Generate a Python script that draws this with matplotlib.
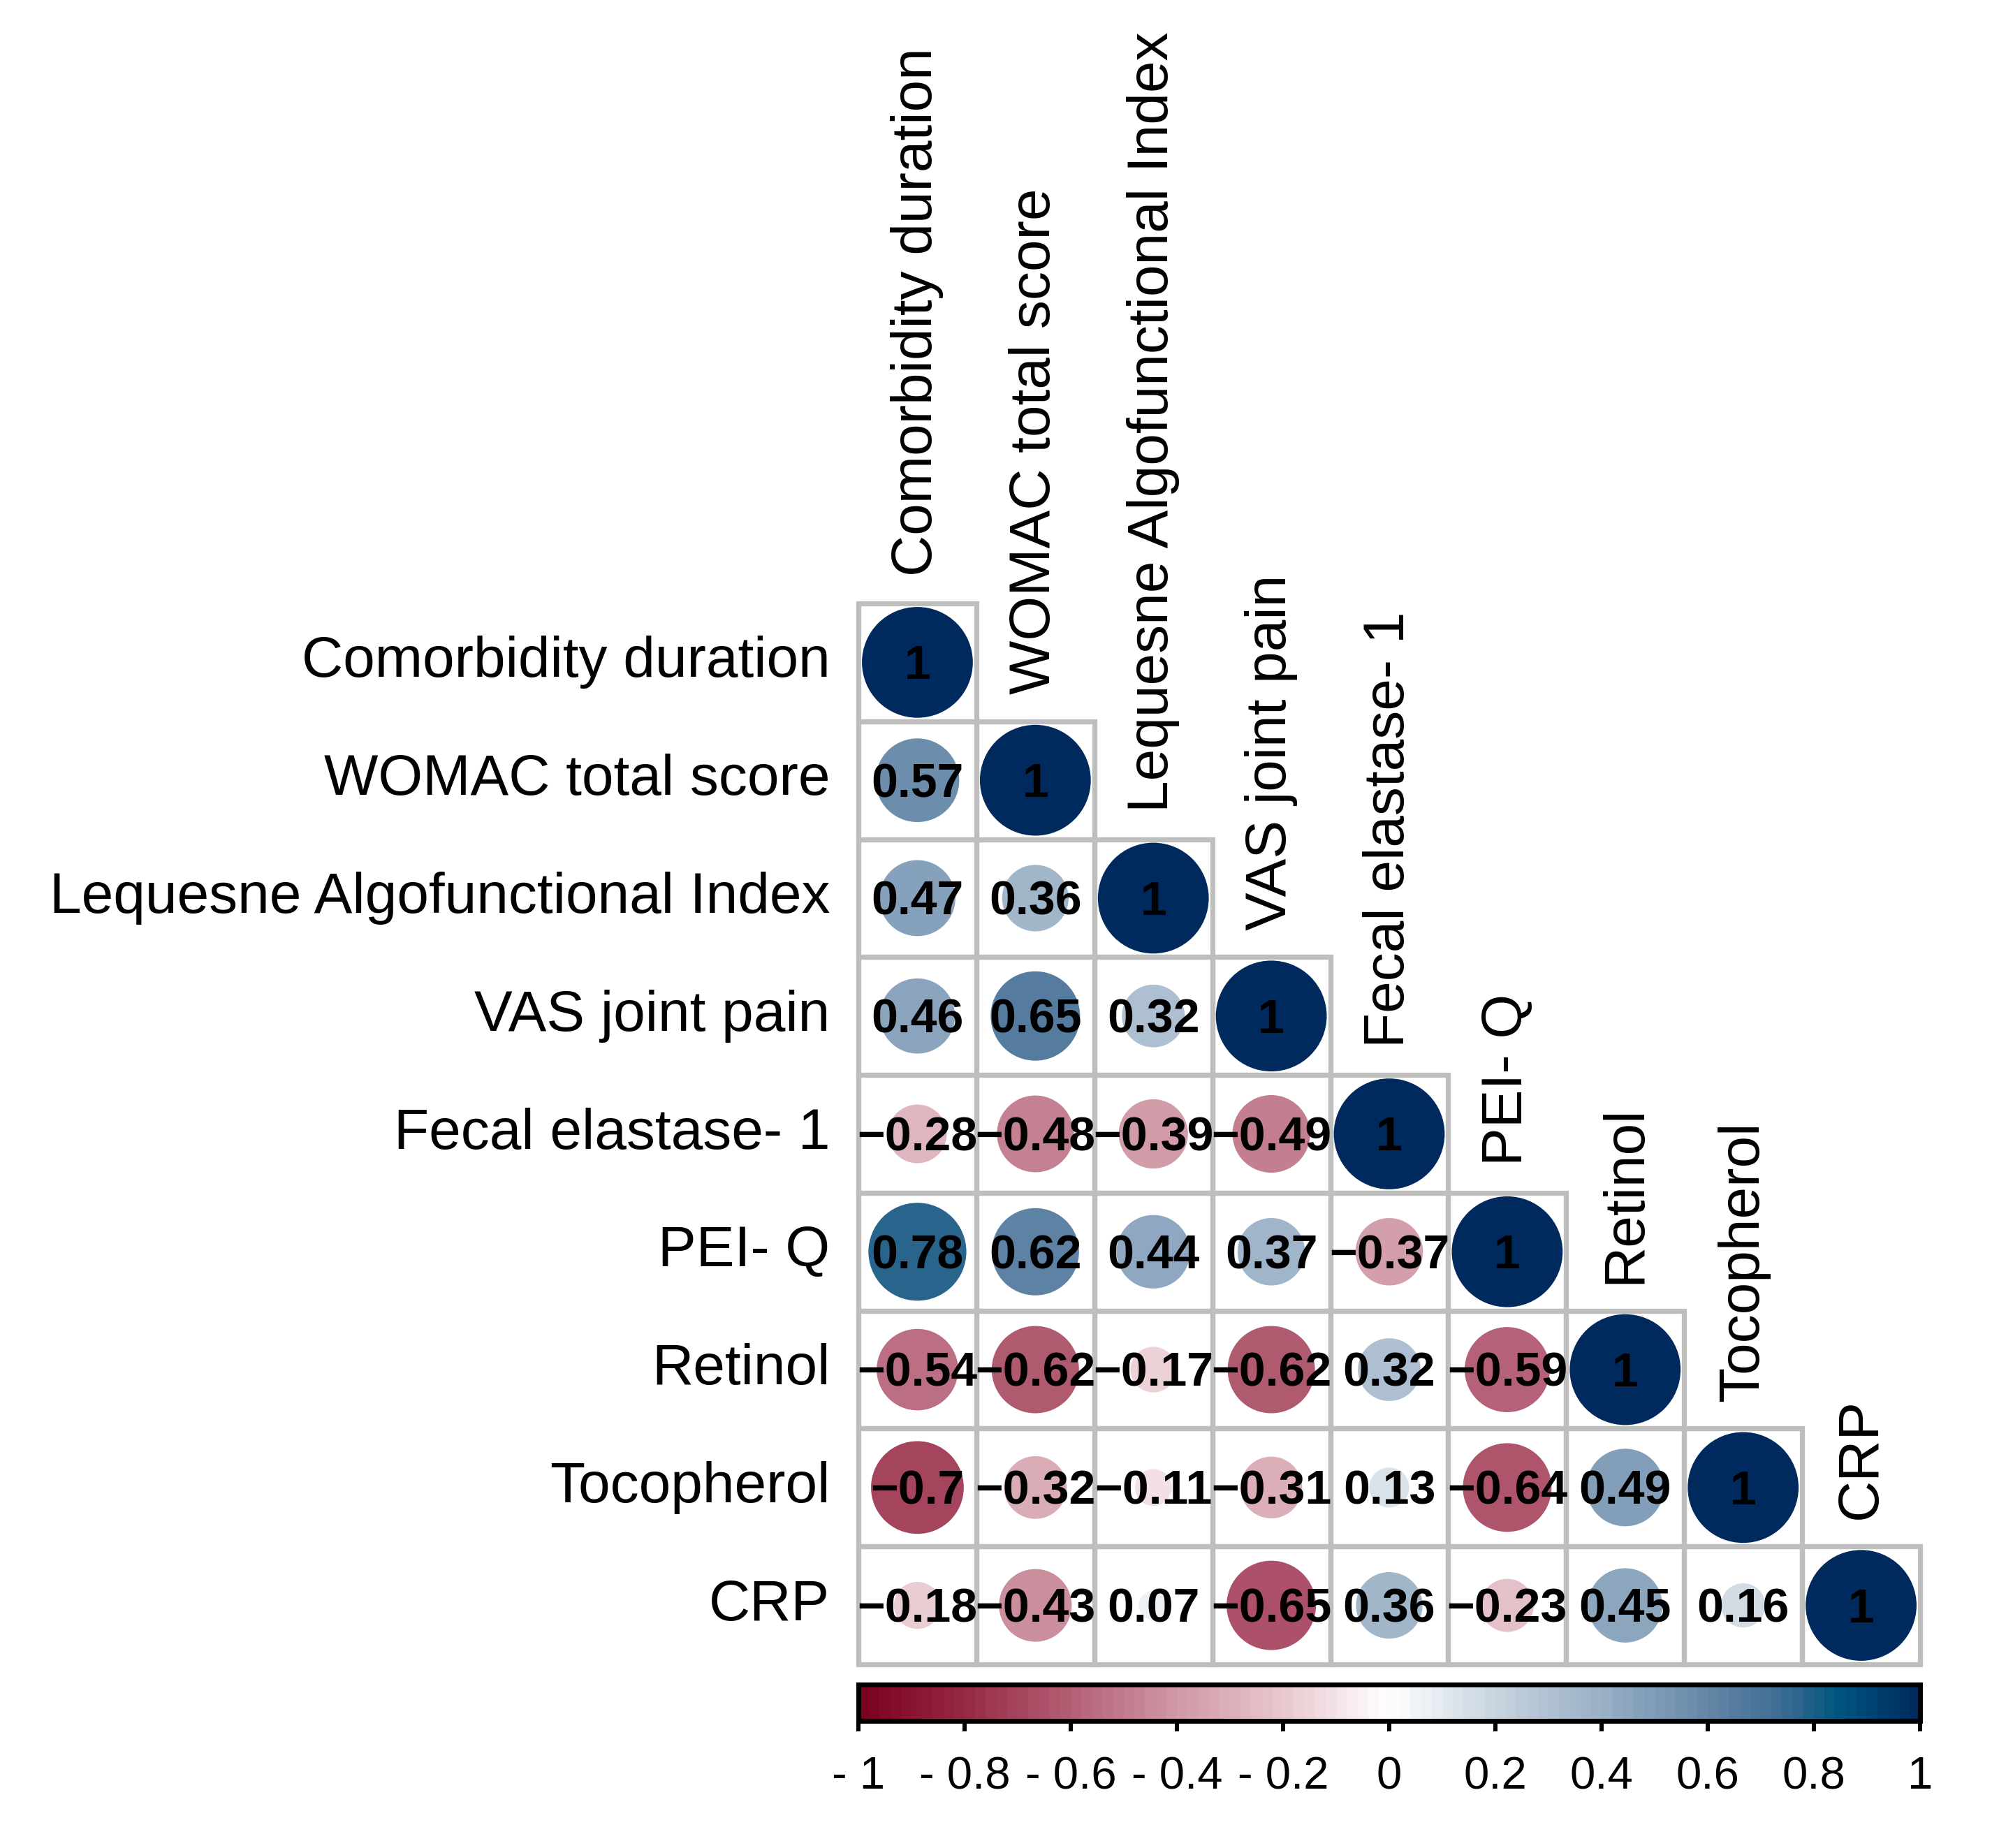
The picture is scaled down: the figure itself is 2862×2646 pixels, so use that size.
import numpy as np
import matplotlib
matplotlib.use("Agg")
import matplotlib.pyplot as plt
from matplotlib.colors import LinearSegmentedColormap, Normalize
from matplotlib.patches import Circle, Rectangle

plt.rcParams['font.family'] = ['Liberation Sans', 'DejaVu Sans']

# variables (same order for rows and columns)
labels = ["Comorbidity duration", "WOMAC total score", "Lequesne Algofunctional Index",
          "VAS joint pain", "Fecal elastase- 1", "PEI- Q", "Retinol", "Tocopherol", "CRP"]

# lower triangle of the correlation matrix, row by row
row_comorb = [1]
row_womac = [0.57, 1]
row_lequesne = [0.47, 0.36, 1]
row_vas = [0.46, 0.65, 0.32, 1]
row_fecal = [-0.28, -0.48, -0.39, -0.49, 1]
row_peiq = [0.78, 0.62, 0.44, 0.37, -0.37, 1]
row_retinol = [-0.54, -0.62, -0.17, -0.62, 0.32, -0.59, 1]
row_tocoph = [-0.7, -0.32, -0.11, -0.31, 0.13, -0.64, 0.49, 1]
row_crp = [-0.18, -0.43, 0.07, -0.65, 0.36, -0.23, 0.45, 0.16, 1]
rows = [row_comorb, row_womac, row_lequesne, row_vas, row_fecal,
        row_peiq, row_retinol, row_tocoph, row_crp]

cbar_ticks = [-1, -0.8, -0.6, -0.4, -0.2, 0, 0.2, 0.4, 0.6, 0.8, 1]
cbar_ticklabels = ["- 1", "- 0.8", "- 0.6", "- 0.4", "- 0.2", "0", "0.2", "0.4", "0.6", "0.8", "1"]

# colour ramp
cmap = LinearSegmentedColormap.from_list("rdbu_soft", [
    (0.000, "#7A0020"),
    (0.100, "#962A45"),
    (0.200, "#B46076"),
    (0.300, "#D098A5"),
    (0.400, "#E8C8CF"),
    (0.500, "#FFFFFF"),
    (0.600, "#C8D4DF"),
    (0.700, "#9AB0C6"),
    (0.800, "#6587A8"),
    (0.875, "#3A6A90"),
    (0.925, "#005580"),
    (1.000, "#002A5E"),
])
norm = Normalize(vmin=-1, vmax=1)

W, H = 2862, 2646
fig = plt.figure(figsize=(W / 100, H / 100), dpi=100)

# main grid axes: one data unit per cell
gx0, gx1, gy0, gy1 = 1229, 2749, 864, 2383
ax = fig.add_axes([gx0 / W, 1 - gy1 / H, (gx1 - gx0) / W, (gy1 - gy0) / H])
n = len(labels)
ax.set_xlim(0, n)
ax.set_ylim(n, 0)
ax.axis('off')

grid_col = "#BEBEBE"
for i, vals in enumerate(rows):
    for j, r in enumerate(vals):
        ax.add_patch(Rectangle((j, i), 1, 1, fill=False, edgecolor=grid_col,
                               linewidth=5.2, clip_on=False, zorder=1))
for i, vals in enumerate(rows):
    for j, r in enumerate(vals):
        ax.add_patch(Circle((j + 0.5, i + 0.5), 0.47 * np.sqrt(abs(r)),
                            facecolor=cmap(norm(r)), edgecolor='none', zorder=2))
        txt = "1" if r == 1 else ("%g" % r).replace("-", "\u2212")
        ax.text(j + 0.5, i + 0.535, txt, ha='center', va='center', fontsize=49,
                fontweight='bold', color='black', zorder=3, clip_on=False)

# row labels on the left, column labels on top of the diagonal
for i, lab in enumerate(labels):
    ax.text(-0.24, i + 0.5, lab, ha='right', va='center', fontsize=59, clip_on=False)
    ax.text(i + 0.5, i - 0.23, lab, ha='center', va='bottom', rotation=90,
            fontsize=59, clip_on=False)

# colour legend
cy0, cy1 = 2411.5, 2463.5
cax = fig.add_axes([gx0 / W, 1 - cy1 / H, (gx1 - gx0) / W, (cy1 - cy0) / H])
edges = np.linspace(-1, 1, 101)
mids = (edges[:-1] + edges[1:]) / 2
cax.pcolormesh(edges, [0, 1], mids[np.newaxis, :], cmap=cmap, norm=norm)
cax.set_xlim(-1, 1)
cax.set_ylim(0, 1)
cax.set_yticks([])
cax.set_xticks(cbar_ticks)
cax.set_xticklabels(cbar_ticklabels)
cax.tick_params(axis='x', direction='out', length=10.5, width=4.3, pad=26, labelsize=47)
for sp in cax.spines.values():
    sp.set_linewidth(5)
    sp.set_color('black')

fig.savefig("out.png", dpi=100)
